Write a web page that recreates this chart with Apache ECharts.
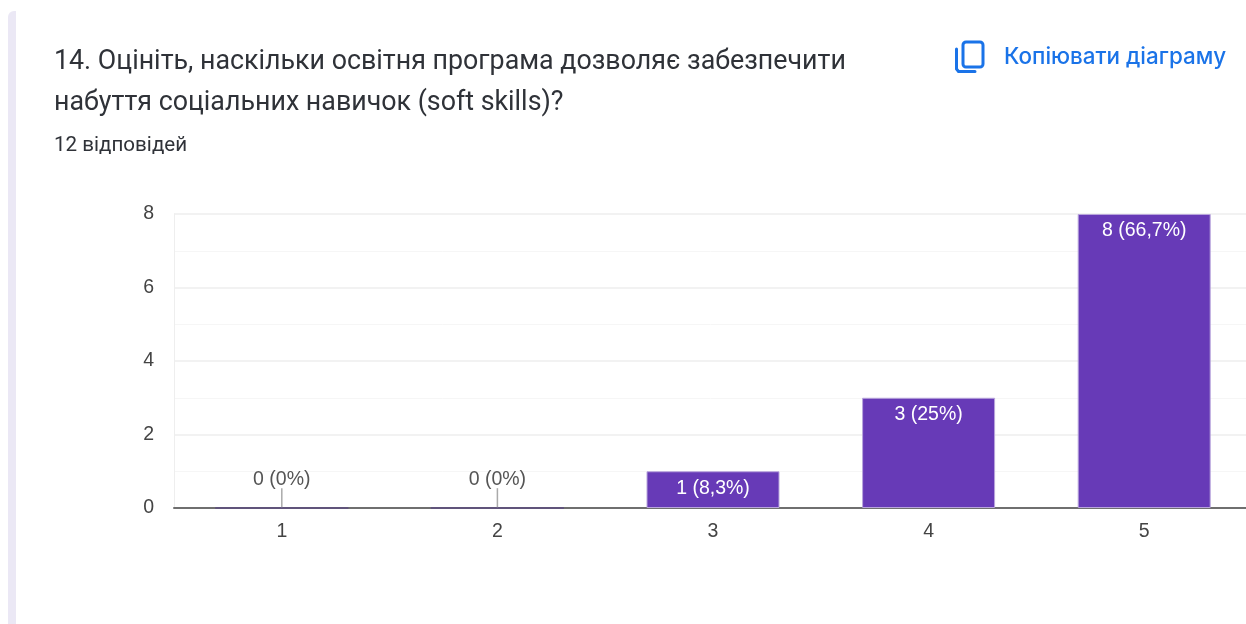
<!DOCTYPE html>
<html><head><meta charset="utf-8">
<style>html,body{margin:0;padding:0;background:#fff}#c{width:1246px;height:624px}</style>
<script src="https://cdn.jsdelivr.net/npm/echarts@6/dist/echarts.min.js"></script>
</head><body><div id="c"></div>
<script>
const categories = ['1','2','3','4','5'];
const values = [0,0,1,3,8];
const labels = ['0 (0%)','0 (0%)','1 (8,3%)','3 (25%)','8 (66,7%)'];
const titleLine1 = '14. Оцініть, наскільки освітня програма дозволяє забезпечити';
const titleLine2 = 'набуття соціальних навичок (soft skills)?';
const subtitle = '12 відповідей';
const copyText = 'Копіювати діаграму';
const leaderHeight = 0.54;
const chart = echarts.init(document.getElementById('c'), null, {renderer:'canvas'});
const txt = (x,y,text,size,fill,fam,weight) => ({type:'text',x,y,style:{text,font:(weight||400)+' '+size+'px '+fam,fill,verticalAlign:'middle'}});
chart.setOption({
  animation:false,
  backgroundColor:'#fff',
  grid:{left:174,width:1078,top:214,height:294,containLabel:false,outerBoundsMode:'none'},
  xAxis:{type:'category',data:categories,
    axisTick:{show:false},
    axisLine:{lineStyle:{color:'#6f6f6f',width:2}},
    axisLabel:{color:'#444',fontSize:19.5,fontFamily:'Liberation Sans',margin:14},
    splitLine:{show:false}},
  yAxis:{type:'value',min:0,max:8,interval:2,
    axisLine:{show:true,lineStyle:{color:'#eeeeee',width:1}},
    axisTick:{show:false},
    axisLabel:{color:'#444',fontSize:19.5,fontFamily:'Liberation Sans',margin:20,padding:[4,0,0,0]},
    splitLine:{lineStyle:{color:'#eeeeee',width:1.5}},
    minorTick:{show:false,splitNumber:2},
    minorSplitLine:{show:true,lineStyle:{color:'#f6f6f6',width:1}}},
  series:[{type:'bar',barWidth:133,
    data:values.map(v=>({value:v,
      itemStyle:v===0?{borderColor:'#5c4d80'}:{},
      label:{show:v!==0}})),
    itemStyle:{color:'#673ab7',borderColor:'#b9a5dc',borderWidth:1},
    label:{position:'insideTop',distance:7,color:'#fff',fontSize:19.5,fontFamily:'Liberation Sans',formatter:p=>labels[p.dataIndex]}
  },{type:'pictorialBar',symbol:'rect',symbolSize:[1.5,'100%'],symbolPosition:'start',
    data:values.map(v=>v===0?leaderHeight:null),
    itemStyle:{color:'#aaaaaa'},
    label:{show:true,position:'top',distance:-1,color:'#555',fontSize:19.5,fontFamily:'Liberation Sans',formatter:p=>labels[p.dataIndex]}
  }],
  graphic:[
    {type:'rect',z:-1,shape:{x:8,y:11,width:8,height:613,r:[6,0,0,0]},style:{fill:'#ebe8f5'}},
    txt(54,62,titleLine1,26.8,'#2f3238','Roboto'),
    txt(54,103,titleLine2,26.8,'#2f3238','Roboto'),
    txt(54,146,subtitle,20.6,'#2f3238','Roboto'),
    txt(1004,57,copyText,22.4,'#1a73e8','Inter',500),
    {type:'rect',shape:{x:963,y:42,width:20,height:25,r:3},style:{fill:'none',stroke:'#1a73e8',lineWidth:3}},
    {type:'polyline',shape:{points:[[956.5,49],[956.5,69],[958.5,71.5],[975,71.5]]},style:{fill:'none',stroke:'#1a73e8',lineWidth:3,lineCap:'round'}}
  ]
});
</script></body></html>
